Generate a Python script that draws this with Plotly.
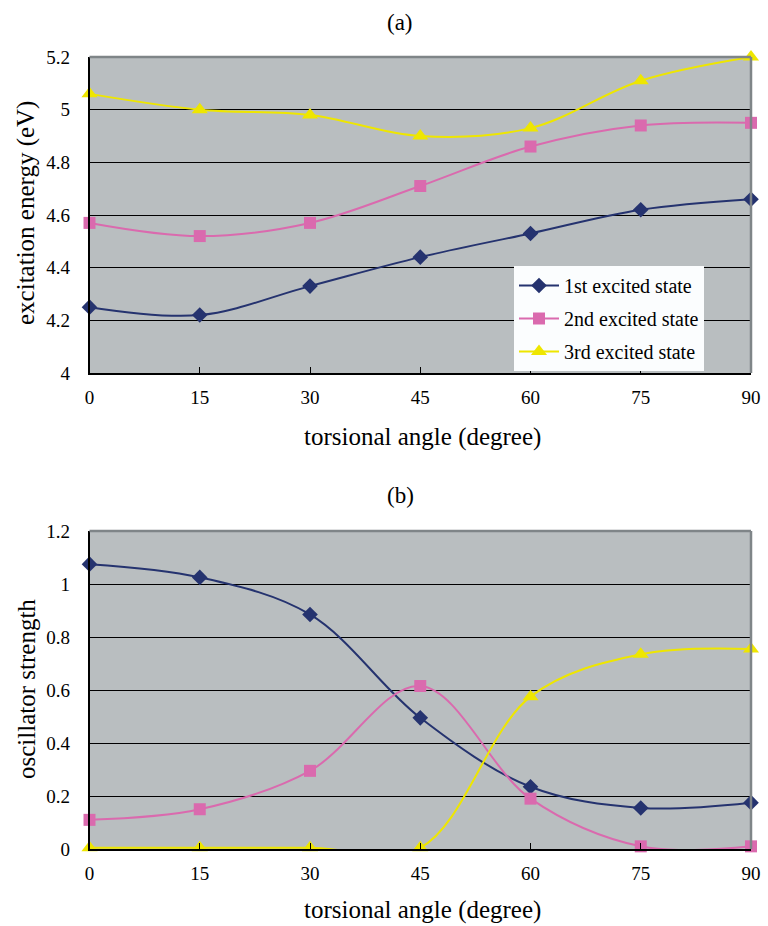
import plotly.graph_objects as go

angles = [0, 15, 30, 45, 60, 75, 90]
x_ticks = [0, 15, 30, 45, 60, 75, 90]

energy_s1 = [4.25, 4.22, 4.33, 4.44, 4.53, 4.62, 4.66]
energy_s2 = [4.57, 4.52, 4.57, 4.71, 4.86, 4.94, 4.95]
energy_s3 = [5.06, 5.00, 4.98, 4.90, 4.93, 5.11, 5.20]

osc_s1 = [1.075, 1.025, 0.885, 0.495, 0.235, 0.155, 0.175]
osc_s2 = [0.11, 0.15, 0.295, 0.615, 0.19, 0.01, 0.01]
osc_s3 = [0.005, 0.005, 0.005, 0.005, 0.575, 0.735, 0.755]

names = ["1st excited state", "2nd excited state", "3rd excited state"]
colors = ["#25336F", "#DA6AAE", "#EEE600"]
symbols = ["diamond", "square", "triangle-up"]
msizes = [12, 12, 14]

FONT = "Liberation Serif, Times New Roman, serif"
BG = "#B9BEC0"

W, H = 768, 926
xl, xr = 89.5 / W, 751 / W
a_top, a_bot = 1 - 57 / H, 1 - 373 / H
b_top, b_bot = 1 - 531 / H, 1 - 849 / H

fig = go.Figure()

for i, ys in enumerate([energy_s1, energy_s2, energy_s3]):
    fig.add_trace(go.Scatter(
        x=angles, y=ys, name=names[i], mode="lines+markers",
        line=dict(color=colors[i], width=2, shape="spline", smoothing=1.0),
        marker=dict(symbol=symbols[i], size=msizes[i], color=colors[i]),
        legendgroup="g%d" % i,
        cliponaxis=False, xaxis="x", yaxis="y", showlegend=True))

for i, ys in enumerate([osc_s1, osc_s2, osc_s3]):
    fig.add_trace(go.Scatter(
        x=angles, y=ys, name=names[i], mode="lines+markers",
        line=dict(color=colors[i], width=2, shape="spline", smoothing=1.0),
        marker=dict(symbol=symbols[i], size=msizes[i], color=colors[i]),
        legendgroup="g%d" % i,
        cliponaxis=False, xaxis="x2", yaxis="y2", showlegend=False))

axis_common = dict(
    showline=True, linecolor="black", linewidth=1.5,
    ticks="inside", ticklen=6, tickcolor="black",
    tickfont=dict(family=FONT, size=19, color="black"),
    zeroline=False, automargin=False,
)

fig.update_layout(
    width=W, height=H, autosize=False,
    margin=dict(l=0, r=0, t=0, b=0, pad=0),
    paper_bgcolor="white", plot_bgcolor=BG,
    font=dict(family=FONT, color="black"),
    xaxis=dict(domain=[xl, xr], range=[0, 90], tickvals=x_ticks,
               showgrid=False, anchor="y", ticklabelstandoff=6, **axis_common),
    yaxis=dict(domain=[a_bot, a_top], range=[4, 5.2],
               tickvals=[4, 4.2, 4.4, 4.6, 4.8, 5, 5.2],
               ticktext=["4", "4.2", "4.4", "4.6", "4.8", "5", "5.2"],
               showgrid=True, gridcolor="black", gridwidth=1,
               anchor="x", ticklabelstandoff=14, **axis_common),
    xaxis2=dict(domain=[xl, xr], range=[0, 90], tickvals=x_ticks,
                showgrid=False, anchor="y2", ticklabelstandoff=6, **axis_common),
    yaxis2=dict(domain=[b_bot, b_top], range=[0, 1.2],
                tickvals=[0, 0.2, 0.4, 0.6, 0.8, 1, 1.2],
                ticktext=["0", "0.2", "0.4", "0.6", "0.8", "1", "1.2"],
                showgrid=True, gridcolor="black", gridwidth=1,
                anchor="x2", ticklabelstandoff=14, **axis_common),
    legend=dict(x=514 / W, y=1 - 266 / H, xanchor="left", yanchor="top",
                bgcolor="#FBFDFE", borderwidth=0,
                font=dict(family=FONT, size=20, color="black"),
                traceorder="grouped", itemwidth=40, tracegroupgap=4),
)

# gray top/right borders of plot areas
for (t, b) in [(a_top, a_bot), (b_top, b_bot)]:
    fig.add_shape(type="line", xref="paper", yref="paper", x0=xl, x1=xr, y0=t, y1=t,
                  line=dict(color="#7F8588", width=2.5), layer="above")
    fig.add_shape(type="line", xref="paper", yref="paper", x0=xr, x1=xr, y0=b, y1=t,
                  line=dict(color="#7F8588", width=2.5), layer="above")

ann = [
    dict(text="(a)", x=400 / W, y=1 - 22 / H, size=23, angle=0),
    dict(text="(b)", x=400 / W, y=1 - 495 / H, size=23, angle=0),
    dict(text="torsional angle (degree)", x=422 / W, y=1 - 437 / H, size=25, angle=0),
    dict(text="torsional angle (degree)", x=422 / W, y=1 - 910 / H, size=25, angle=0),
    dict(text="excitation energy (eV)", x=26 / W, y=1 - 213 / H, size=25, angle=-90),
    dict(text="oscillator strength", x=26 / W, y=1 - 689 / H, size=25, angle=-90),
]
for a in ann:
    fig.add_annotation(text=a["text"], x=a["x"], y=a["y"], xref="paper", yref="paper",
                       showarrow=False, textangle=a["angle"],
                       font=dict(family=FONT, size=a["size"], color="black"),
                       xanchor="center", yanchor="middle")

fig.write_html("out.html", config={"displayModeBar": False},
               post_script="document.body.style.margin='0';document.body.style.overflow='hidden';")
